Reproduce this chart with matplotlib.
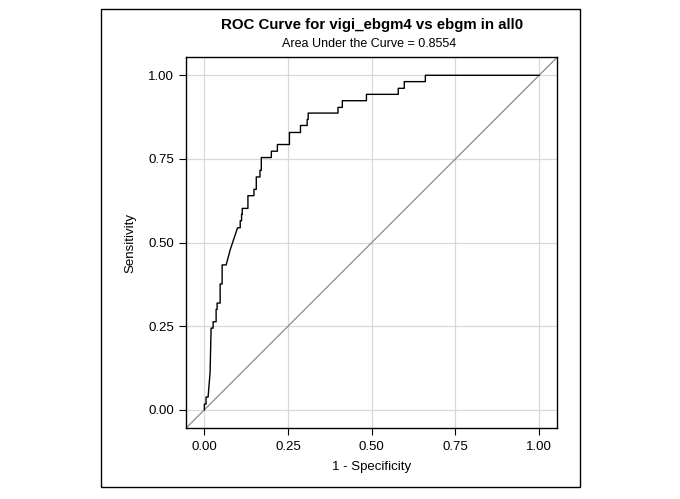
import matplotlib
matplotlib.use('Agg')
import matplotlib.pyplot as plt
from matplotlib.patches import Rectangle

plt.rcParams['font.family'] = ['Liberation Sans', 'DejaVu Sans']

# ROC curve vertices
fpr = [0.0, 0.0, 0.005, 0.005, 0.011, 0.017, 0.020, 0.026, 0.026, 0.035, 0.035,
       0.038, 0.038, 0.047, 0.047, 0.053, 0.053, 0.065, 0.077, 0.099, 0.107,
       0.107, 0.111, 0.111, 0.113, 0.113, 0.130, 0.130, 0.148, 0.148, 0.155,
       0.155, 0.166, 0.166, 0.170, 0.170, 0.200, 0.200, 0.218, 0.218, 0.254,
       0.254, 0.287, 0.287, 0.307, 0.307, 0.310, 0.310, 0.399, 0.399, 0.412,
       0.412, 0.484, 0.484, 0.579, 0.579, 0.597, 0.597, 0.660, 0.660, 1.0]
tpr = [0.0, 0.017, 0.017, 0.038, 0.038, 0.112, 0.244, 0.244, 0.263, 0.263, 0.300,
       0.300, 0.319, 0.319, 0.376, 0.376, 0.433, 0.433, 0.478, 0.544, 0.544,
       0.565, 0.565, 0.584, 0.584, 0.602, 0.602, 0.640, 0.640, 0.659, 0.659,
       0.696, 0.696, 0.716, 0.716, 0.754, 0.754, 0.773, 0.773, 0.793, 0.793,
       0.829, 0.829, 0.850, 0.850, 0.868, 0.868, 0.887, 0.887, 0.904, 0.904,
       0.924, 0.924, 0.943, 0.943, 0.961, 0.961, 0.981, 0.981, 1.0, 1.0]
ticks = [0.0, 0.25, 0.5, 0.75, 1.0]
tick_labels = ['0.00', '0.25', '0.50', '0.75', '1.00']

fig = plt.figure(figsize=(6.8, 4.99), dpi=100)
ax = fig.add_axes([0.274, 0.142, 0.545, 0.744])

ax.grid(True, color='#d9d9d9', linewidth=0.9)
ax.set_axisbelow(True)
ax.axline((0, 0), (1, 1), color='#8c8c8c', linewidth=0.9)
ax.plot(fpr, tpr, color='black', linewidth=1.0)

ax.set_xlim(-0.054, 1.053)
ax.set_ylim(-0.055, 1.055)
ax.set_xticks(ticks)
ax.set_xticklabels(tick_labels)
ax.set_yticks(ticks)
ax.set_yticklabels(tick_labels)
ax.tick_params(direction='out', length=5, width=0.8, labelsize=9.5, pad=4)
for s in ax.spines.values():
    s.set_linewidth(1.0)

ax.set_xlabel('1 - Specificity', fontsize=9.5, labelpad=6)
ax.set_ylabel('Sensitivity', fontsize=9.5, labelpad=8)

cx = 0.5 * (186.3 + 557) / 680
fig.text(cx, 1 - 25 / 499, 'ROC Curve for vigi_ebgm4 vs ebgm in all0',
         ha='center', va='center', fontsize=10.8, fontweight='bold')
fig.text(cx - 0.004, 1 - 44 / 499, 'Area Under the Curve = 0.8554',
         ha='center', va='center', fontsize=9)

# outer border
fig.patches.append(Rectangle((100.7 / 680, 1 - 487.3 / 499), (579.5 - 100.7) / 680,
                             (487.3 - 8.7) / 499, transform=fig.transFigure,
                             fill=False, edgecolor='black', linewidth=1.0))

fig.savefig('out.png', dpi=100)
